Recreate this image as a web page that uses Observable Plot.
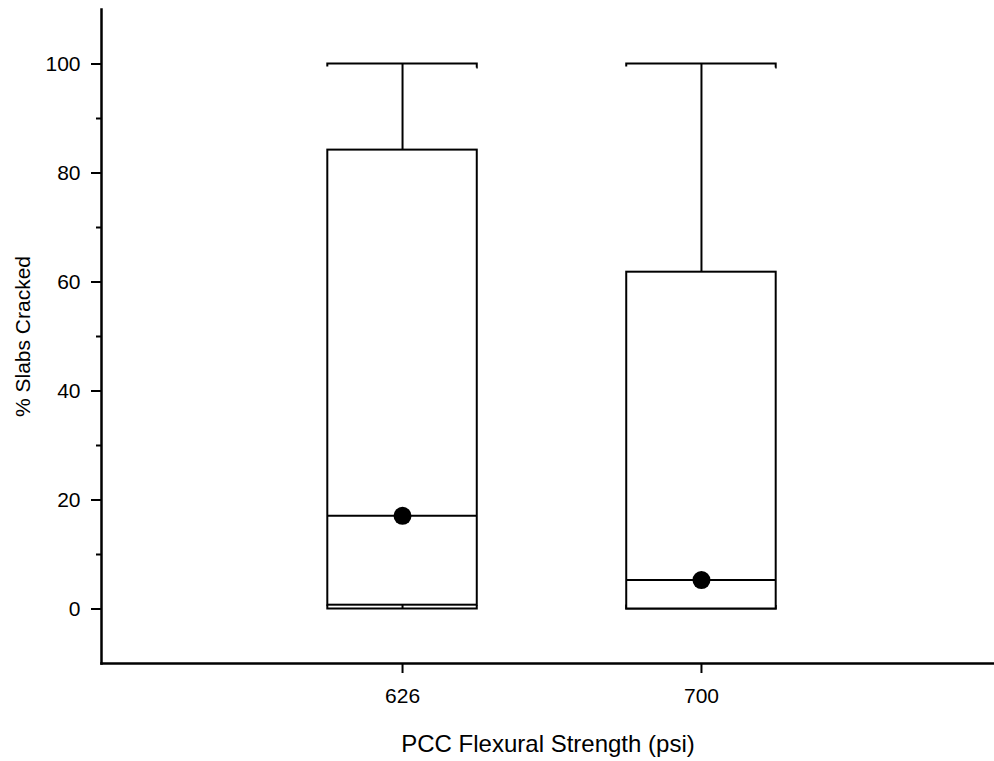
<!DOCTYPE html>
<html>
<head>
<meta charset="utf-8">
<script src="https://cdn.jsdelivr.net/npm/d3@7"></script>
<script src="https://cdn.jsdelivr.net/npm/@observablehq/plot@0.6"></script>
<style>
  html, body { margin: 0; padding: 0; background: #fff; }
  #chart svg { display: block; }
</style>
</head>
<body>
<div id="chart"></div>
<script>
// Data
const categories = ["626", "700"];
const maxV    = [100, 100];
const q3      = [84.2, 61.8];
const median  = [17.1, 5.3];
const q1      = [0.7, 0.0];
const minV    = [0, 0];
const meanV   = [17.1, 5.3];
const majorTicks = [0, 20, 40, 60, 80, 100];
const minorTicks = [10, 30, 50, 70, 90];
const xTitle = "PCC Flexural Strength (psi)";
const yTitle = "% Slabs Cracked";

const data = categories.map((c, i) => ({
  cat: c, max: maxV[i], q3: q3[i], median: median[i], q1: q1[i], min: minV[i], mean: meanV[i]
}));

const font = "'Liberation Sans', Arial, Helvetica, sans-serif";

const chart = Plot.plot({
  width: 994,
  height: 761,
  marginLeft: 101,
  marginRight: 0,
  marginTop: 9,
  marginBottom: 98,
  style: { fontFamily: font, fontSize: "21px", color: "black", background: "white" },
  x: { type: "band", domain: categories, range: [104, 999], paddingInner: 0.5, paddingOuter: 0.747, round: false },
  y: { domain: [-10, 110] },
  marks: [
    // whiskers
    Plot.ruleX(data, { x: "cat", y1: "q3", y2: "max", stroke: "black", strokeWidth: 2 }),
    Plot.ruleX(data, { x: "cat", y1: "min", y2: "q1", stroke: "black", strokeWidth: 2 }),
    // caps with small hooks
    Plot.barY(data, { x: "cat", y1: "max", y2: d => d.max - 0.75, fill: "none", stroke: "black", strokeWidth: 2, strokeDasharray: "154,150,5" }),
    Plot.barY(data, { x: "cat", y1: "min", y2: d => d.min + 0.75, fill: "none", stroke: "black", strokeWidth: 2, strokeDasharray: "0,150,159" }),
    // boxes
    Plot.barY(data, { x: "cat", y1: "q1", y2: "q3", fill: "white", stroke: "black", strokeWidth: 2 }),
    // medians
    Plot.tickY(data, { x: "cat", y: "median", stroke: "black", strokeWidth: 2 }),
    // means
    Plot.dot(data, { x: "cat", y: "mean", r: 9, fill: "black", stroke: "none" }),
    // axes
    Plot.axisY({ ticks: majorTicks, tickSize: 10, tickPadding: 11, strokeWidth: 2, fontSize: 21, label: null }),
    Plot.axisY({ ticks: minorTicks, tickSize: 5, tickFormat: () => "", strokeWidth: 2, label: null }),
    Plot.axisX({ tickSize: 10, tickPadding: 15, strokeWidth: 2, fontSize: 21, label: null }),
    Plot.text([yTitle], { frameAnchor: "left", textAnchor: "middle", rotate: -90, dx: -78, fontSize: 21, fill: "black" }),
    Plot.text([xTitle], { frameAnchor: "bottom", dy: 88, fontSize: 24, fill: "black" }),
    Plot.frame({ anchor: "left", stroke: "black", strokeWidth: 2.5 }),
    Plot.frame({ anchor: "bottom", stroke: "black", strokeWidth: 2.5 })
  ]
});
document.getElementById("chart").appendChild(chart);
</script>
</body>
</html>
